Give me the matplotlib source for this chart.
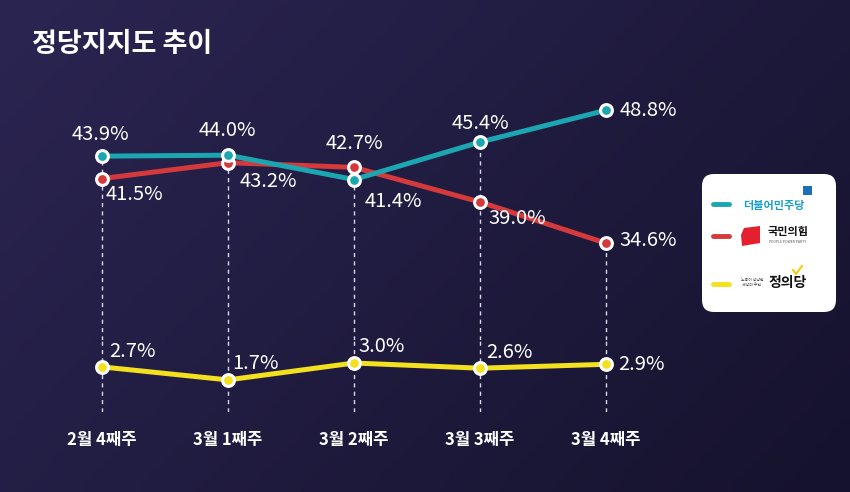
import numpy as np
import matplotlib.pyplot as plt
from matplotlib.patches import FancyBboxPatch, Polygon

plt.rcParams['font.family'] = ['Noto Sans CJK KR', 'DejaVu Sans']

# 데이터
weeks = ['2월 4째주', '3월 1째주', '3월 2째주', '3월 3째주', '3월 4째주']
minju = [43.9, 44.0, 41.4, 45.4, 48.8]
ppp = [41.5, 43.2, 42.7, 39.0, 34.6]
justice = [2.7, 1.7, 3.0, 2.6, 2.9]

teal = '#1ba6b2'
red = '#d43a3c'
yellow = '#f3e01e'

W, H = 850, 492
fig = plt.figure(figsize=(W / 100, H / 100), dpi=100)

# 배경 (그라데이션)
bg = fig.add_axes([0, 0, 1, 1])
bg.set_xlim(0, W)
bg.set_ylim(H, 0)
bg.axis('off')
gx, gy = np.meshgrid(np.linspace(0, 1, 200), np.linspace(0, 1, 120))
t = np.clip(0.65 * gx + 0.35 * gy, 0, 1)
c0 = np.array([0x2b, 0x25, 0x52]) / 255
c1 = np.array([0x15, 0x12, 0x2d]) / 255
img = c0[None, None, :] * (1 - t[..., None]) + c1[None, None, :] * t[..., None]
bg.imshow(img, extent=[0, W, H, 0], aspect='auto', zorder=0)

bg.text(32, 44, '정당지지도 추이', color='white', fontsize=19.5,
        fontweight='bold', va='center', ha='left')


def px_axes(top, bottom):
    return fig.add_axes([60 / W, 1 - bottom / H, 640 / W, (bottom - top) / H])


x = np.arange(len(weeks))
xlim = (-42 / 126, 4 + 94 / 126)

# 상단 (더불어민주당, 국민의힘)
ax = px_axes(95, 340)
ax.set_xlim(*xlim)
ax.set_ylim(42.45 - (340 - 169.7) / 9.36, 42.45 + (169.7 - 95) / 9.36)
# 하단 (정의당)
ax2 = px_axes(340, 412)
ax2.set_xlim(*xlim)
ax2.set_ylim(3.0 - 49 / 13, 3.0 + 23 / 13)
for a in (ax, ax2):
    a.patch.set_alpha(0)
    a.axis('off')

# 점선
for i in x:
    start = min(minju[i], ppp[i]) if i == len(x) - 1 else max(minju[i], ppp[i])
    ax.vlines(i, ax.get_ylim()[0], start, colors='#d8d8e8', linestyles=(0, (3, 3)),
              linewidth=1.0, zorder=1)
    ax2.vlines(i, ax2.get_ylim()[0], ax2.get_ylim()[1], colors='#d8d8e8',
               linestyles=(0, (3, 3)), linewidth=1.0, zorder=1)

mk = dict(marker='o', markersize=8.5, markeredgecolor='white', markeredgewidth=2.2,
          linewidth=3.6, solid_capstyle='round', zorder=3)
ax.plot(x, ppp, color=red, markerfacecolor=red, **mk)
ax.plot(x, minju, color=teal, markerfacecolor=teal, **mk)
ax2.plot(x, justice, color=yellow, markerfacecolor=yellow, **mk)

lab = dict(textcoords='offset pixels', color='white', fontsize=14.5,
           ha='center', va='center', zorder=5)
off_minju = [(-2, 22), (-1, 25), (39, -22), (0, 19), (42, 0)]
off_ppp = [(32, -16), (40, -19), (0, 24), (37, -17), (42, 3)]
off_justice = [(30, 15), (28, 16), (28, 16), (29, 16), (35, 0)]
for i in x:
    ax.annotate(f'{minju[i]:.1f}%', (i, minju[i]), xytext=off_minju[i], **lab)
    ax.annotate(f'{ppp[i]:.1f}%', (i, ppp[i]), xytext=off_ppp[i], **lab)
    ax2.annotate(f'{justice[i]:.1f}%', (i, justice[i]), xytext=off_justice[i], **lab)
    ax2.annotate(weeks[i], (i, ax2.get_ylim()[0]), xytext=(0, -28),
                 textcoords='offset pixels', color='white', fontsize=12,
                 fontweight='bold', ha='center', va='center')

# 범례 상자
box = FancyBboxPatch((702, 174), 134, 138, boxstyle='round,pad=0,rounding_size=12',
                     facecolor='white', edgecolor='none', zorder=2)
bg.add_patch(box)
for yy, c in [(204, teal), (236, red), (284, yellow)]:
    bg.plot([713, 729], [yy, yy], color=c, linewidth=3.5, solid_capstyle='round', zorder=3)

bg.add_patch(FancyBboxPatch((803, 186), 9, 9, boxstyle='square,pad=0',
                            facecolor='#1d6fb8', edgecolor='none', zorder=3))
bg.text(774, 206, '더불어민주당', color='#1aa0c8', fontsize=8, fontweight='bold',
        ha='center', va='center', zorder=3)

bg.add_patch(Polygon([[744, 228], [760, 226], [760, 243], [742, 246], [741, 235]],
                     closed=True, facecolor='#e5202e', edgecolor='none', zorder=3))
bg.text(788, 232, '국민의힘', color='#111111', fontsize=8, fontweight='bold',
        ha='center', va='center', zorder=3)
bg.text(788, 242, 'PEOPLE POWER PARTY', color='#555555', fontsize=2.5,
        ha='center', va='center', zorder=3)

bg.text(752, 282, '노동이 당당한\n세상의 주인', color='#444444', fontsize=2.8,
        ha='center', va='center', linespacing=1.2, zorder=3)
bg.text(788, 283, '정의당', color='#111111', fontsize=10, fontweight='bold',
        ha='center', va='center', zorder=3)
bg.plot([793, 796, 802], [270, 274, 266], color='#f2cf1a', linewidth=1.6, zorder=4)

fig.savefig('out.png', dpi=100)
